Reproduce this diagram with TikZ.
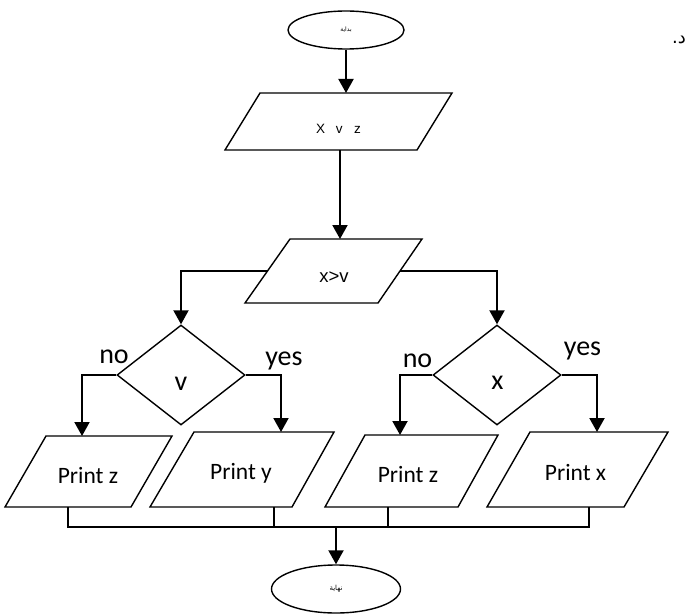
\documentclass[tikz,border=0pt]{standalone}
\usepackage{fontspec}
\setmainfont{Carlito}
\newfontfamily\arialf{Liberation Sans}
\newfontfamily\arabicfont[Script=Arabic]{DejaVu Sans}
\TeXXeTstate=1
\usetikzlibrary{arrows.meta,shapes.geometric}
\begin{document}
\begin{tikzpicture}[x=1pt,y=-1pt,
  shapeline/.style={draw, line width=1.4pt},
  conn/.style={line width=2pt, -{Triangle[width=15pt,length=14pt]}},
  merge/.style={line width=1.3pt},
  txt/.style={inner sep=0pt, anchor=base},
  lbl/.style={txt, font=\fontsize{28}{32}\selectfont},
  prt/.style={txt, font=\fontsize{23.5}{27}\selectfont},
  dia/.style={diamond, draw, line width=1.4pt, inner sep=0pt, minimum width=128pt, minimum height=100pt}]
\useasboundingbox (0,0) rectangle (695,615);

% start / end
\node[ellipse, draw, line width=1.4pt, minimum width=116pt, minimum height=38pt, inner sep=0pt,
      font=\arabicfont\fontsize{6}{7}\selectfont] (start) at (346,30) {\beginR بداية\endR};
\node[ellipse, draw, line width=1.4pt, minimum width=129pt, minimum height=48pt, inner sep=0pt,
      font=\arabicfont\fontsize{7}{8}\selectfont] (end) at (336,589) {\beginR نهاية\endR};
\node[font=\arabicfont\fontsize{18}{20}\selectfont, inner sep=0pt] (dal) at (679,40) {د.};

% input parallelogram X v z
\coordinate (p1tl) at (260,93);  \coordinate (p1tr) at (452,93);
\coordinate (p1br) at (417,150); \coordinate (p1bl) at (225,150);
\draw[shapeline] (p1tl) -- (p1tr) -- (p1br) -- (p1bl) -- cycle;
\node[txt, font=\arialf\fontsize{13.5}{16}\selectfont] (p1t) at (338.5,133) {X\hspace{7pt} v\hspace{8pt} z};
\coordinate (p1in) at (346,93); \coordinate (p1out) at (340,150);

% x>v parallelogram
\coordinate (p2tl) at (290,239); \coordinate (p2tr) at (422,239);
\coordinate (p2br) at (378,303); \coordinate (p2bl) at (245,303);
\draw[shapeline] (p2tl) -- (p2tr) -- (p2br) -- (p2bl) -- cycle;
\node[txt, font=\arialf\fontsize{18.5}{22}\selectfont] (p2t) at (334,282) {x>v};
\coordinate (p2in) at (340,239);
\coordinate (p2l) at (267.5,271); \coordinate (p2r) at (400,271);

% decisions
\node[dia] (d1) at (181,375) {};
\node[dia] (d2) at (497,375) {};
\node[lbl] (d1t) at (181,390) {v};
\node[lbl] (d2t) at (497.5,389) {x};
\node[lbl] (no1) at (114,363) {no};
\node[lbl] (yes1) at (284,365) {yes};
\node[lbl] (no2) at (417.5,367) {no};
\node[lbl] (yes2) at (582.5,355) {yes};

% print parallelograms
\draw[shapeline] (46,436) coordinate (z1tl) -- (172,436) -- (131,507) -- (5,507) -- cycle;
\node[prt] (z1t) at (88,483) {Print z};
\coordinate (z1in) at (82,436); \coordinate (z1out) at (68,507);

\draw[shapeline] (194,432) coordinate (ytl) -- (334,432) -- (292,507) -- (150,507) -- cycle;
\node[prt] (yt) at (241,479) {Print y};
\coordinate (yin) at (281,432); \coordinate (yout) at (274,507);

\draw[shapeline] (365,435) coordinate (z2tl) -- (498,435) -- (458,507) -- (325,507) -- cycle;
\node[prt] (z2t) at (408,482) {Print z};
\coordinate (z2in) at (400,435); \coordinate (z2out) at (388,507);

\draw[shapeline] (530,432) coordinate (xtl) -- (668,432) -- (624,507) -- (487,507) -- cycle;
\node[prt] (xt) at (575.5,480) {Print x};
\coordinate (xin) at (597,432); \coordinate (xout) at (589,507);

% connectors
\draw[conn] (start.south) -- (p1in);
\draw[conn] (p1out) -- (p2in);
\draw[conn] (p2l) -| (d1.north);
\draw[conn] (p2r) -| (d2.north);
\draw[conn] (d1.west) -| (z1in);
\draw[conn] (d1.east) -| (yin);
\draw[conn] (d2.west) -| (z2in);
\draw[conn] (d2.east) -| (xin);

\coordinate (mrg) at (336,527);
\draw[merge] (z1out) |- (mrg) -| (xout);
\draw[merge] (yout) -- (yout |- mrg);
\draw[merge] (z2out) -- (z2out |- mrg);
\draw[conn] (mrg) -- (end.north);
\end{tikzpicture}
\end{document}
